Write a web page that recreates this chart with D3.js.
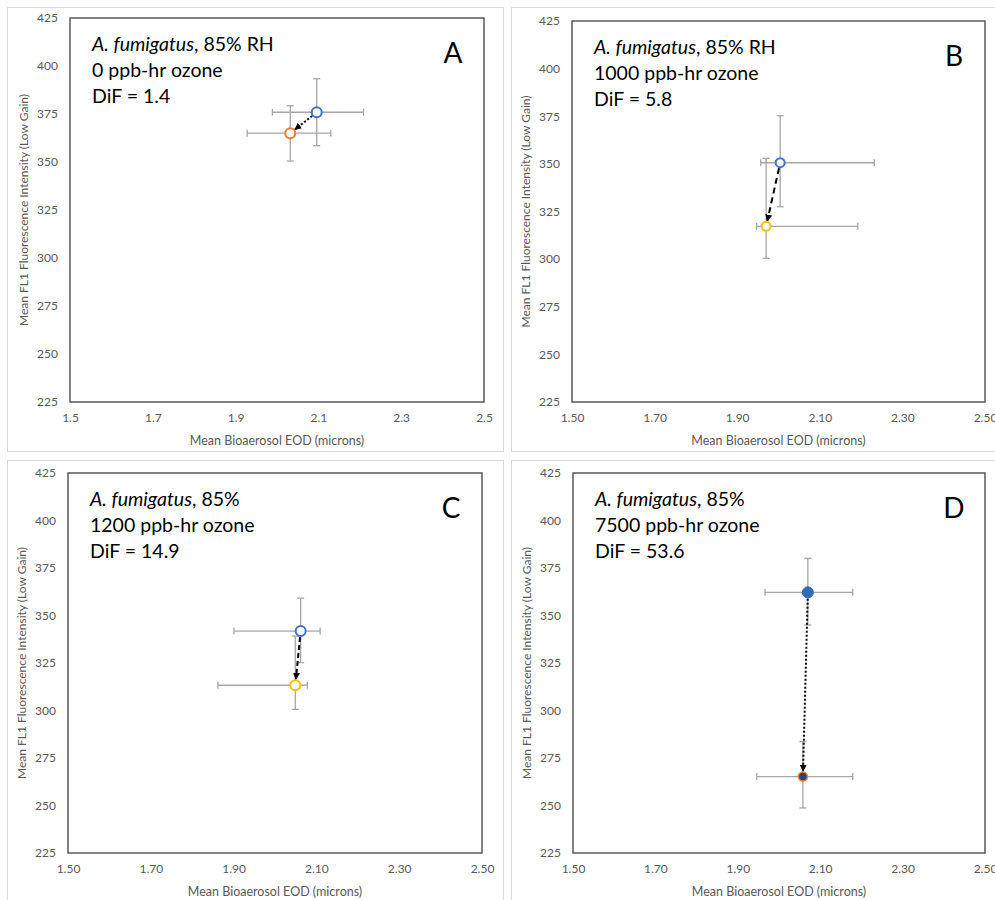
<!DOCTYPE html>
<html><head><meta charset="utf-8">
<script src="https://cdn.jsdelivr.net/npm/d3@7"></script>
<style>
body{margin:0;background:#fff;}
svg{display:block;font-family:Lato, "Open Sans", sans-serif;}
</style></head>
<body><svg id="chart" width="995" height="900"></svg>
<script>
// ---------- data ----------
const panelLetters = ["A", "B", "C", "D"];
const speciesName = "A. fumigatus";
const rhLabels = [", 85% RH", ", 85% RH", ", 85%", ", 85%"];
const ozoneLabels = ["0 ppb-hr ozone", "1000 ppb-hr ozone", "1200 ppb-hr ozone", "7500 ppb-hr ozone"];
const difLabels = ["DiF = 1.4", "DiF = 5.8", "DiF = 14.9", "DiF = 53.6"];
const xTickValues = [1.5, 1.7, 1.9, 2.1, 2.3, 2.5];
const yTickValues = [225, 250, 275, 300, 325, 350, 375, 400, 425];
const xTickFormats = [".1f", ".2f", ".2f", ".2f"];
const xTitle = "Mean Bioaerosol EOD (microns)";
const yTitle = "Mean FL1 Fluorescence Intensity (Low Gain)";

// point 1 (start of arrow, blue)
const startX    = [2.096, 2.004, 2.062, 2.070];
const startY    = [375.9, 350.6, 341.8, 362.2];
const startXLow = [1.989, 1.957, 1.901, 1.966];
const startXHigh= [2.209, 2.232, 2.109, 2.179];
const startYLow = [358.5, 327.5, 325.2, 345.0];
const startYHigh= [393.4, 375.3, 359.1, 380.1];
// point 2 (end of arrow)
const endX    = [2.032, 1.970, 2.049, 2.058];
const endY    = [365.0, 317.2, 313.3, 265.2];
const endXLow = [1.928, 1.947, 1.862, 1.946];
const endXHigh= [2.130, 2.192, 2.078, 2.179];
const endYLow = [350.5, 300.4, 300.6, 248.7];
const endYHigh= [379.3, 352.9, 339.2, 283.6];

// ---------- layout & style ----------
const layout = [
  {ox:7,   oy:7,   ow:496, oh:444, l:70,  t:18,  r:484, b:402},
  {ox:511, oy:7,   ow:500, oh:444, l:572, t:21,  r:985, b:402},
  {ox:7,   oy:460, ow:496, oh:450, l:68,  t:473, r:482, b:853},
  {ox:511, oy:460, ow:500, oh:450, l:573, t:473, r:985, b:853}
];
const startStyle = [
  {fill:"#fff", stroke:"#4472C4", r:5, sw:2},
  {fill:"#fff", stroke:"#4472C4", r:4.5, sw:2},
  {fill:"#fff", stroke:"#4472C4", r:5, sw:2},
  {fill:"#2E6CB8", stroke:"#2E6CB8", r:5.5, sw:1}
];
const endStyle = [
  {fill:"#fff", stroke:"#ED7D31", r:5, sw:2},
  {fill:"#fff", stroke:"#FFC000", r:4.5, sw:2},
  {fill:"#fff", stroke:"#FFC000", r:5, sw:2},
  {fill:"#264478", stroke:"#ED7D31", r:4.5, sw:1.5}
];
const arrowDash = ["2,2", "6,4", "5,3", "2,2"];

const svg = d3.select("#chart");
svg.append("defs").append("marker")
  .attr("id", "arrow").attr("viewBox", "0 0 10 10")
  .attr("refX", 9).attr("refY", 5)
  .attr("markerWidth", 3.5).attr("markerHeight", 3.5)
  .attr("markerUnits", "strokeWidth")
  .attr("orient", "auto")
  .append("path").attr("d", "M0,0 L10,5 L0,10 z").attr("fill", "#000");

const tickColor = "#595959";
const errColor = "#A6A6A6";

panelLetters.forEach((letter, i) => {
  const L = layout[i];
  const g = svg.append("g");
  // outer chart frame
  g.append("rect").attr("x", L.ox + 0.5).attr("y", L.oy + 0.5)
    .attr("width", L.ow).attr("height", L.oh)
    .attr("fill", "#fff").attr("stroke", "#D9D9D9").attr("stroke-width", 1);

  const x = d3.scaleLinear().domain([1.5, 2.5]).range([L.l, L.r]);
  const y = d3.scaleLinear().domain([225, 425]).range([L.b, L.t]);

  // plot area frame
  g.append("rect").attr("x", L.l).attr("y", L.t)
    .attr("width", L.r - L.l).attr("height", L.b - L.t)
    .attr("fill", "none").attr("stroke", "#595959").attr("stroke-width", 1.5);

  // axes (labels only, Excel style)
  const xAxis = d3.axisBottom(x).tickValues(xTickValues)
    .tickFormat(d3.format(xTickFormats[i])).tickSize(0).tickPadding(0);
  const xg = g.append("g").attr("transform", `translate(0,${L.b + 11})`).call(xAxis);
  xg.select(".domain").remove();
  xg.selectAll("text").attr("fill", tickColor).attr("font-size", 12)
    .attr("font-family", "Lato, sans-serif");

  const yAxis = d3.axisLeft(y).tickValues(yTickValues).tickSize(0).tickPadding(0);
  const yg = g.append("g").attr("transform", `translate(${L.l - 12},0)`).call(yAxis);
  yg.select(".domain").remove();
  yg.selectAll("text").attr("fill", tickColor).attr("font-size", 12)
    .attr("font-family", "Lato, sans-serif");

  // axis titles
  g.append("text").attr("x", (L.l + L.r) / 2).attr("y", L.b + 38)
    .attr("text-anchor", "middle").attr("dominant-baseline", "central")
    .attr("fill", tickColor).attr("font-size", 12.5).text(xTitle);
  g.append("text")
    .attr("transform", `translate(${L.l - 47},${(L.t + L.b) / 2}) rotate(-90)`)
    .attr("text-anchor", "middle").attr("dominant-baseline", "central")
    .attr("fill", tickColor).attr("font-size", 12).text(yTitle);

  // annotation
  const ann = g.append("text").attr("x", L.l + 22).attr("y", L.t + 33)
    .attr("font-size", 19.5).attr("fill", "#000");
  ann.append("tspan").attr("font-style", "italic").text(speciesName);
  ann.append("tspan").text(rhLabels[i]);
  g.append("text").attr("x", L.l + 22).attr("y", L.t + 59)
    .attr("font-size", 19.5).attr("fill", "#000").text(ozoneLabels[i]);
  g.append("text").attr("x", L.l + 22).attr("y", L.t + 85)
    .attr("font-size", 19.5).attr("fill", "#000").text(difLabels[i]);
  g.append("text").attr("x", L.r - 31).attr("y", L.t + 34)
    .attr("text-anchor", "middle").attr("dominant-baseline", "central")
    .attr("font-size", 28).attr("fill", "#000").text(letter);

  // error bars
  const pts = [
    {cx:startX[i], cy:startY[i], xl:startXLow[i], xh:startXHigh[i], yl:startYLow[i], yh:startYHigh[i]},
    {cx:endX[i], cy:endY[i], xl:endXLow[i], xh:endXHigh[i], yl:endYLow[i], yh:endYHigh[i]}
  ];
  const cap = 3.5;
  const eb = g.append("g").attr("stroke", errColor).attr("stroke-width", 1.3).attr("fill", "none");
  pts.forEach(p => {
    eb.append("line").attr("x1", x(p.xl)).attr("x2", x(p.xh)).attr("y1", y(p.cy)).attr("y2", y(p.cy));
    eb.append("line").attr("x1", x(p.xl)).attr("x2", x(p.xl)).attr("y1", y(p.cy) - cap).attr("y2", y(p.cy) + cap);
    eb.append("line").attr("x1", x(p.xh)).attr("x2", x(p.xh)).attr("y1", y(p.cy) - cap).attr("y2", y(p.cy) + cap);
    eb.append("line").attr("x1", x(p.cx)).attr("x2", x(p.cx)).attr("y1", y(p.yl)).attr("y2", y(p.yh));
    eb.append("line").attr("x1", x(p.cx) - cap).attr("x2", x(p.cx) + cap).attr("y1", y(p.yl)).attr("y2", y(p.yl));
    eb.append("line").attr("x1", x(p.cx) - cap).attr("x2", x(p.cx) + cap).attr("y1", y(p.yh)).attr("y2", y(p.yh));
  });

  // arrow
  const x1 = x(startX[i]), y1 = y(startY[i]), x2 = x(endX[i]), y2 = y(endY[i]);
  const len = Math.hypot(x2 - x1, y2 - y1);
  const ux = (x2 - x1) / len, uy = (y2 - y1) / len;
  const r1 = startStyle[i].r + 1, r2 = endStyle[i].r + 1;
  g.append("line")
    .attr("x1", x1 + ux * r1).attr("y1", y1 + uy * r1)
    .attr("x2", x2 - ux * r2).attr("y2", y2 - uy * r2)
    .attr("stroke", "#000").attr("stroke-width", 2)
    .attr("stroke-dasharray", arrowDash[i])
    .attr("marker-end", "url(#arrow)");

  // markers
  [[pts[0], startStyle[i]], [pts[1], endStyle[i]]].forEach(([p, s]) => {
    g.append("circle").attr("cx", x(p.cx)).attr("cy", y(p.cy)).attr("r", s.r)
      .attr("fill", s.fill).attr("stroke", s.stroke).attr("stroke-width", s.sw);
  });
});
</script></body></html>
